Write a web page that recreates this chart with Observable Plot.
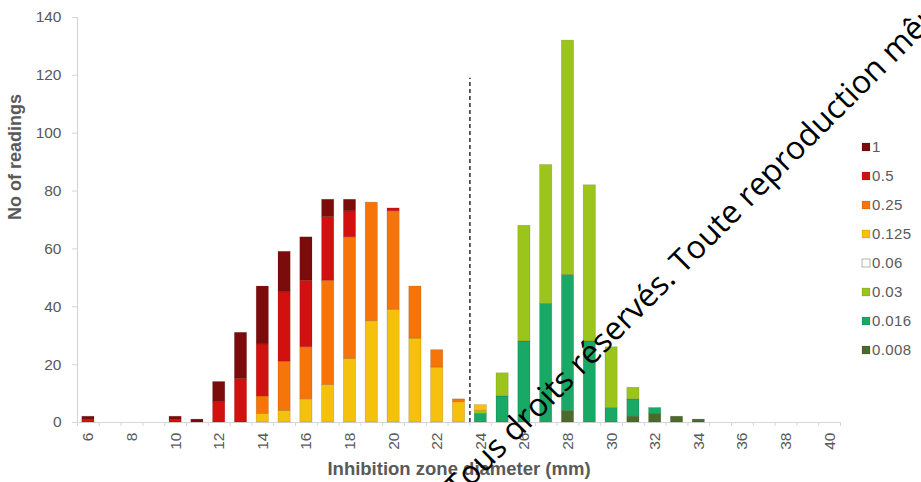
<!DOCTYPE html>
<html>
<head>
<meta charset="utf-8">
<script src="https://cdn.jsdelivr.net/npm/d3@7"></script>
<script src="https://cdn.jsdelivr.net/npm/@observablehq/plot@0.6"></script>
<style>
  html, body { margin: 0; padding: 0; background: #fff; overflow: hidden; }
  #chart { width: 921px; height: 482px; overflow: hidden; }
</style>
</head>
<body>
<div id="chart"></div>
<script>
// Inhibition zone diameters (mm), one category per bar
const diameters = [6, 7, 8, 9, 10, 11, 12, 13, 14, 15, 16, 17, 18, 19, 20, 21, 22, 23,
                   24, 25, 26, 27, 28, 29, 30, 31, 32, 33, 34, 35, 36, 37, 38, 39, 40];

// Number of readings per diameter for each MIC (mg/L)
const mic1     = [1, 0, 0, 0, 1, 1, 7, 16, 20, 14, 15, 6, 4, 0, 0, 0, 0, 0,
                  0, 0, 0, 0, 0, 0, 0, 0, 0, 0, 0, 0, 0, 0, 0, 0, 0];
const mic0_5   = [1, 0, 0, 0, 1, 0, 7, 15, 18, 24, 23, 22, 9, 0, 1, 0, 0, 0,
                  0, 0, 0, 0, 0, 0, 0, 0, 0, 0, 0, 0, 0, 0, 0, 0, 0];
const mic0_25  = [0, 0, 0, 0, 0, 0, 0, 0, 6, 17, 18, 36, 42, 41, 34, 18, 6, 1,
                  0, 0, 0, 0, 0, 0, 0, 0, 0, 0, 0, 0, 0, 0, 0, 0, 0];
const mic0_125 = [0, 0, 0, 0, 0, 0, 0, 0, 3, 4, 8, 13, 22, 35, 39, 29, 19, 7,
                  2, 0, 0, 0, 0, 0, 0, 0, 0, 0, 0, 0, 0, 0, 0, 0, 0];
const mic0_06  = [0, 0, 0, 0, 0, 0, 0, 0, 0, 0, 0, 0, 0, 0, 0, 0, 0, 0,
                  0, 0, 0, 0, 0, 0, 0, 0, 0, 0, 0, 0, 0, 0, 0, 0, 0];
const mic0_03  = [0, 0, 0, 0, 0, 0, 0, 0, 0, 0, 0, 0, 0, 0, 0, 0, 0, 0,
                  1, 8, 40, 48, 81, 54, 21, 4, 0, 0, 0, 0, 0, 0, 0, 0, 0];
const mic0_016 = [0, 0, 0, 0, 0, 0, 0, 0, 0, 0, 0, 0, 0, 0, 0, 0, 0, 0,
                  3, 9, 28, 41, 47, 28, 5, 6, 2, 0, 0, 0, 0, 0, 0, 0, 0];
const mic0_008 = [0, 0, 0, 0, 0, 0, 0, 0, 0, 0, 0, 0, 0, 0, 0, 0, 0, 0,
                  0, 0, 0, 0, 4, 0, 0, 2, 3, 2, 1, 0, 0, 0, 0, 0, 0];

// Legend order (top to bottom) and colours
const micLabels = ["1", "0.5", "0.25", "0.125", "0.06", "0.03", "0.016", "0.008"];
const micColors = ["#7c0b0b", "#d2100f", "#f6750b", "#f6c10d", "#ffffff", "#9cc51b", "#18a966", "#4b6a2b"];

// Axis ticks
const xTickLabels = [6, 8, 10, 12, 14, 16, 18, 20, 22, 24, 26, 28, 30, 32, 34, 36, 38, 40];
const yTicks = [0, 20, 40, 60, 80, 100, 120, 140];

// Susceptibility breakpoint drawn as a dashed line
const breakpoint = 23.5;
const breakpointTop = 119;

const xLabel = "Inhibition zone diameter (mm)";
const yLabel = "No of readings";
const notice = "Tous droits réservés. Toute reproduction même";

// Stack from the lowest MIC at the bottom up to the highest at the top
const seriesBottomUp = [
  ["0.008", mic0_008], ["0.016", mic0_016], ["0.03", mic0_03], ["0.06", mic0_06],
  ["0.125", mic0_125], ["0.25", mic0_25], ["0.5", mic0_5], ["1", mic1]
];
const rows = [];
diameters.forEach((d, i) => {
  for (const [mic, values] of seriesBottomUp) {
    if (values[i] > 0) rows.push({diameter: d, mic, count: values[i]});
  }
});

const xDomain = [diameters[0] - 0.5, diameters[diameters.length - 1] + 0.5];
const boundaries = diameters.map(d => d - 0.5).concat([xDomain[1]]);

const plot = Plot.plot({
  width: 921,
  height: 482,
  marginLeft: 77,
  marginRight: 81,
  marginTop: 17,
  marginBottom: 60,
  style: {fontFamily: "'Liberation Sans', Arial, sans-serif", fontSize: "15.5px", color: "#595959", background: "#fff"},
  x: {domain: xDomain, label: null},
  y: {domain: [0, 140], label: null},
  color: {domain: micLabels, range: micColors},
  marks: [
    Plot.ruleX([xDomain[0]], {stroke: "#d6d6d6", strokeWidth: 1.2}),
    Plot.ruleY([0], {stroke: "#d6d6d6", strokeWidth: 1.2}),
    Plot.axisY({ticks: yTicks, tickSize: 5, tickPadding: 11, stroke: "#d6d6d6", fill: "#595959", label: null}),
    Plot.axisX({ticks: boundaries, tickSize: 4, tickFormat: () => "", stroke: "#d6d6d6", label: null}),
    Plot.axisX({ticks: xTickLabels, tickSize: 0, tickPadding: 10, tickRotate: -90, fill: "#595959", label: null}),
    Plot.rectY(rows, {
      x1: r => r.diameter - 0.5,
      x2: r => r.diameter + 0.5,
      y: "count",
      fill: "mic",
      insetLeft: 4.8,
      insetRight: 4.8,
      stroke: "rgba(60,30,0,0.22)",
      strokeWidth: 0.7
    }),
    Plot.ruleX([breakpoint], {y1: 0, y2: breakpointTop, stroke: "#3a3a3a", strokeWidth: 1.6, strokeDasharray: "4,3"}),
    Plot.text([yLabel], {frameAnchor: "left", rotate: -90, dx: -62, fontWeight: "bold", fontSize: 18, fill: "#595959"}),
    Plot.text([xLabel], {frameAnchor: "bottom", dy: 47, lineAnchor: "middle", fontWeight: "bold", fontSize: 18.5, fill: "#595959"})
  ]
});

const svg = d3.select(plot);

// Legend on the right
const legend = svg.append("g")
  .attr("font-family", "'Liberation Sans', Arial, sans-serif")
  .attr("font-size", 15)
  .attr("letter-spacing", 0.4)
  .attr("text-anchor", "start")
  .attr("fill", "#595959");
micLabels.forEach((label, i) => {
  const cy = 147 + i * 29;
  legend.append("rect")
    .attr("x", 862).attr("y", cy - 4).attr("width", 8).attr("height", 8)
    .attr("fill", micColors[i])
    .attr("stroke", label === "0.06" ? "#9aa69a" : "rgba(0,0,0,0.15)")
    .attr("stroke-width", 0.8);
  legend.append("text")
    .attr("x", 872).attr("y", cy).attr("dy", "0.36em")
    .text(label);
});

// Diagonal copyright notice across the chart
svg.append("text")
  .attr("transform", "translate(458,500) rotate(-45)")
  .attr("text-anchor", "start")
  .attr("font-family", "'Open Sans', sans-serif")
  .attr("font-size", 32)
  .attr("fill", "#000")
  .text(notice);

document.getElementById("chart").appendChild(plot);
</script>
</body>
</html>
